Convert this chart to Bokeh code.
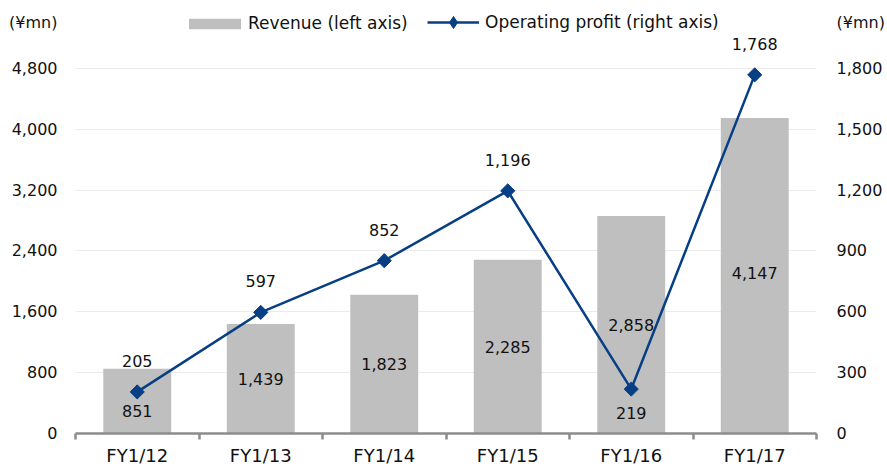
import numpy as np
from bokeh.plotting import figure
from bokeh.models import (Range1d, LinearAxis, FixedTicker, ColumnDataSource,
                          Legend, LegendItem, NumeralTickFormatter)
from bokeh.embed import file_html
from bokeh.resources import INLINE
from bokeh.core.properties import value

# ---------------- data ----------------
categories = ["FY1/12", "FY1/13", "FY1/14", "FY1/15", "FY1/16", "FY1/17"]
revenue = [851, 1439, 1823, 2285, 2858, 4147]
op_profit = [205, 597, 852, 1196, 219, 1768]
left_ticks = [0, 800, 1600, 2400, 3200, 4000, 4800]
right_ticks = [0, 300, 600, 900, 1200, 1500, 1800]
unit_text = "(¥mn)"

# label placement (revenue labels in data units, profit label offsets in px)
revenue_label_y = [290, 720, 910, 1140, 1430, 2110]
profit_label_offset = [-31, -31, -31, -31, 24, -31]
unit_pos_left = 5400          # where the unit captions sit, in axis units
unit_pos_right = 2025

# ---------------- style ----------------
FONT = "DejaVu Sans"
FS = "16px"
FS_X = "18px"
FS_LEG = "17px"
BAR = "#bfbfbf"
LINE = "#073f85"
AXIS = "#8c8c8c"
TXT = "#111111"

W, H = 887, 468
MB_L, MB_R, MB_T, MB_B = 75, 69, 0, 34
frame_h = H - MB_T - MB_B
y_max = frame_h * 4800 / 366.0
y2_max = y_max * right_ticks[-1] / left_ticks[-1]

xc = [i + 0.5 for i in range(len(categories))]
src = ColumnDataSource(dict(
    x=xc, cat=categories, rev=revenue, op=op_profit,
    rev_txt=[f"{v:,}" for v in revenue], op_txt=[f"{v:,}" for v in op_profit],
    rev_ly=revenue_label_y, op_off=profit_label_offset,
))

p = figure(width=W, height=H, x_range=Range1d(0, len(categories)),
           y_range=Range1d(0, y_max), output_backend="svg", toolbar_location=None,
           min_border_left=MB_L, min_border_right=MB_R,
           min_border_top=MB_T, min_border_bottom=MB_B)
p.extra_y_ranges = {"right": Range1d(0, y2_max)}
p.outline_line_color = None
p.background_fill_color = "white"
p.border_fill_color = "white"

# grid
p.xgrid.visible = False
p.ygrid.ticker = FixedTicker(ticks=left_ticks)
p.ygrid.grid_line_color = "#ebebeb"
p.ygrid.grid_line_width = 1

def style_y(ax, ticks, unit_pos, standoff):
    ax.ticker = FixedTicker(ticks=ticks + [unit_pos])
    ax.formatter = NumeralTickFormatter(format="0,0")
    ax.major_label_overrides = {unit_pos: unit_text}
    ax.axis_line_color = None
    ax.major_tick_line_color = None
    ax.minor_tick_line_color = None
    ax.major_tick_out = 0
    ax.major_tick_in = 0
    ax.minor_tick_out = 0
    ax.minor_tick_in = 0
    ax.major_label_standoff = standoff
    ax.major_label_text_font = FONT
    ax.major_label_text_font_size = FS
    ax.major_label_text_color = TXT

# left axis
style_y(p.yaxis[0], left_ticks, unit_pos_left, 18)
# right axis
ra = LinearAxis(y_range_name="right")
style_y(ra, right_ticks, unit_pos_right, 20)
p.add_layout(ra, "right")

# bottom axis: labels at centers, tick marks at category boundaries
ba = p.xaxis[0]
ba.ticker = FixedTicker(ticks=xc, minor_ticks=list(range(len(categories) + 1)))
ba.major_label_overrides = {x: c for x, c in zip(xc, categories)}
ba.axis_line_color = AXIS
ba.axis_line_width = 2.5
ba.major_tick_line_color = None
ba.major_tick_out = 0
ba.major_tick_in = 0
ba.minor_tick_line_color = AXIS
ba.minor_tick_line_width = 2.5
ba.minor_tick_out = 6
ba.minor_tick_in = 0
ba.major_label_standoff = 5
ba.major_label_text_font = FONT
ba.major_label_text_font_size = FS_X
ba.major_label_text_color = TXT

# bars
bars = p.vbar(x="x", top="rev", width=0.55, source=src, fill_color=BAR, line_color=None)
# line + markers
ln = p.line(x="x", y="op", source=src, y_range_name="right", line_color=LINE, line_width=2.5)
mk = p.scatter(x="x", y="op", source=src, y_range_name="right", marker="square",
               angle=np.pi / 4, size=10, fill_color=LINE, line_color=LINE)
# legend-only diamond (legend swatches ignore marker angle)
mk_leg = p.scatter(x="x", y="op", source=src, y_range_name="right", marker="diamond",
                   fill_color=LINE, line_color=LINE, visible=False)

# data labels
p.text(x="x", y="rev_ly", text="rev_txt", source=src, text_align="center",
       text_baseline="middle", text_font=value(FONT), text_font_size=FS, text_color=TXT)
p.text(x="x", y="op", text="op_txt", source=src, y_range_name="right", y_offset="op_off",
       text_align="center", text_baseline="middle", text_font=value(FONT),
       text_font_size=FS, text_color=TXT)

# legends
def mk_legend(items, loc, gw, gh, standoff):
    lg = Legend(items=items, location=loc, orientation="horizontal", glyph_width=gw,
                glyph_height=gh, label_standoff=standoff, padding=0, margin=0, spacing=0,
                label_height=gh, border_line_color=None, background_fill_alpha=0,
                label_text_font=FONT, label_text_font_size=FS_LEG, label_text_color=TXT)
    p.add_layout(lg, "center")

mk_legend([LegendItem(label="Revenue (left axis)", renderers=[bars])], (107, 400), 65, 13, 1)
mk_legend([LegendItem(label="Operating profit (right axis)", renderers=[ln, mk_leg])], (352, 396), 52, 30, 6)

open("out.html", "w").write(file_html(p, INLINE))
